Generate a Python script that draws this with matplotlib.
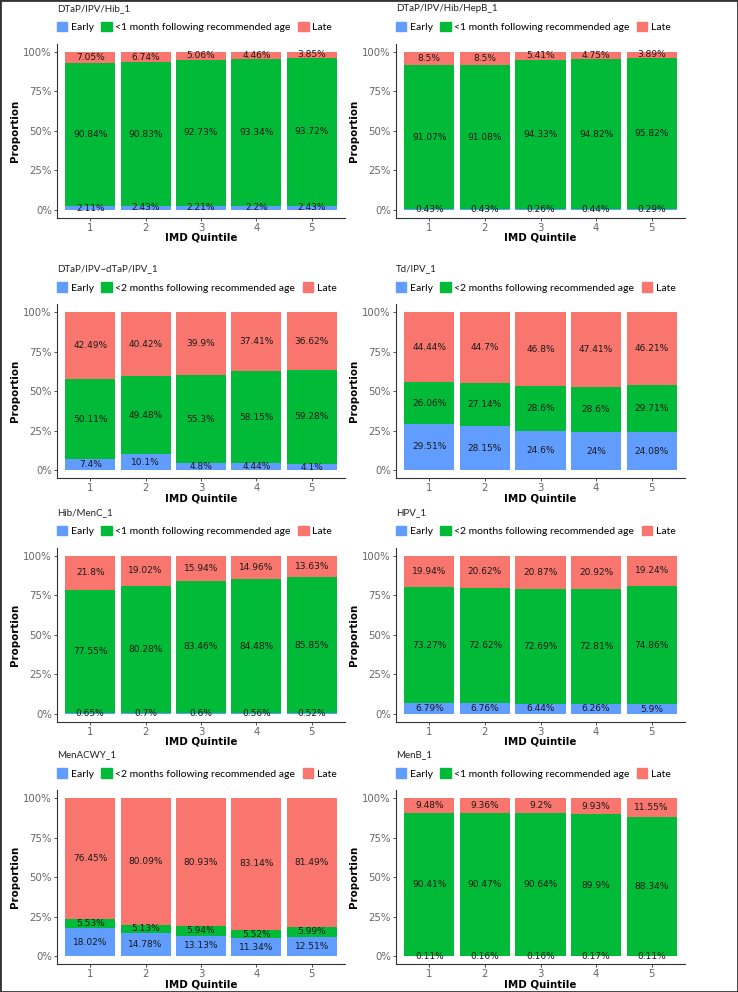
import matplotlib
matplotlib.use("Agg")
import matplotlib.pyplot as plt
from matplotlib.patches import Patch, Rectangle
import numpy as np

quintiles = [1, 2, 3, 4, 5]

titles = ["DTaP/IPV/Hib_1", "DTaP/IPV/Hib/HepB_1", "DTaP/IPV~dTaP/IPV_1", "Td/IPV_1",
          "Hib/MenC_1", "HPV_1", "MenACWY_1", "MenB_1"]
green_labels = ["<1 month following recommended age", "<1 month following recommended age",
                "<2 months following recommended age", "<2 months following recommended age",
                "<1 month following recommended age", "<2 months following recommended age",
                "<2 months following recommended age", "<1 month following recommended age"]

early = [
    [2.11, 2.43, 2.21, 2.2, 2.43],
    [0.43, 0.43, 0.26, 0.44, 0.29],
    [7.4, 10.1, 4.8, 4.44, 4.1],
    [29.51, 28.15, 24.6, 24, 24.08],
    [0.65, 0.7, 0.6, 0.56, 0.52],
    [6.79, 6.76, 6.44, 6.26, 5.9],
    [18.02, 14.78, 13.13, 11.34, 12.51],
    [0.11, 0.16, 0.16, 0.17, 0.11],
]
ontime = [
    [90.84, 90.83, 92.73, 93.34, 93.72],
    [91.07, 91.08, 94.33, 94.82, 95.82],
    [50.11, 49.48, 55.3, 58.15, 59.28],
    [26.06, 27.14, 28.6, 28.6, 29.71],
    [77.55, 80.28, 83.46, 84.48, 85.85],
    [73.27, 72.62, 72.69, 72.81, 74.86],
    [5.53, 5.13, 5.94, 5.52, 5.99],
    [90.41, 90.47, 90.64, 89.9, 88.34],
]
late = [
    [7.05, 6.74, 5.06, 4.46, 3.85],
    [8.5, 8.5, 5.41, 4.75, 3.89],
    [42.49, 40.42, 39.9, 37.41, 36.62],
    [44.44, 44.7, 46.8, 47.41, 46.21],
    [21.8, 19.02, 15.94, 14.96, 13.63],
    [19.94, 20.62, 20.87, 20.92, 19.24],
    [76.45, 80.09, 80.93, 83.14, 81.49],
    [9.48, 9.36, 9.2, 9.93, 11.55],
]

C_EARLY = "#619CFF"
C_ON = "#00BA38"
C_LATE = "#F8766D"

W, H = 738, 992
fig = plt.figure(figsize=(W / 100, H / 100), dpi=100)

col_x = [(57, 345), (396, 685)]
row_top = [43.8, 304.4, 547.8, 790.4]
ax_h = 173.8

def fmt(v):
    s = ("%.2f" % v).rstrip("0").rstrip(".")
    return s + "%"

for i in range(8):
    r, c = divmod(i, 2)
    x0, x1 = col_x[c]
    top = row_top[r]
    ax = fig.add_axes([x0 / W, 1 - (top + ax_h) / H, (x1 - x0) / W, ax_h / H])
    e = np.array(early[i]) / 100
    g = np.array(ontime[i]) / 100
    l = np.array(late[i]) / 100
    x = np.array(quintiles)
    ax.bar(x, e, width=0.9, color=C_EARLY, label="Early")
    ax.bar(x, g, width=0.9, bottom=e, color=C_ON, label=green_labels[i])
    ax.bar(x, l, width=0.9, bottom=e + g, color=C_LATE, label="Late")
    for xi, ev, gv, lv in zip(x, early[i], ontime[i], late[i]):
        ax.text(xi, ev / 200, fmt(ev), ha="center", va="center", fontsize=6.5, color="#1a1a1a")
        ax.text(xi, ev / 100 + gv / 200, fmt(gv), ha="center", va="center", fontsize=6.5, color="#1a1a1a")
        ax.text(xi, (ev + gv) / 100 + lv / 200, fmt(lv), ha="center", va="center", fontsize=6.5, color="#1a1a1a")
    ax.set_xlim(0.4, 5.6)
    ax.set_ylim(-0.05, 1.05)
    ax.set_xticks(quintiles)
    ax.set_xticklabels([str(q) for q in quintiles])
    ax.set_yticks([0, 0.25, 0.5, 0.75, 1.0])
    ax.set_yticklabels(["0%", "25%", "50%", "75%", "100%"])
    for s in ["top", "right"]:
        ax.spines[s].set_visible(False)
    for s in ["left", "bottom"]:
        ax.spines[s].set_color("#333333")
        ax.spines[s].set_linewidth(0.8)
    ax.tick_params(axis="both", labelsize=7.3, labelcolor="#666666", color="#333333",
                   length=2.5, width=0.6, pad=1.2)
    ax.set_xlabel("IMD Quintile", fontsize=7.4, fontweight="bold", labelpad=0)
    ax.set_ylabel("Proportion", fontsize=7.4, fontweight="bold", labelpad=2)
    ax.text(0.0, 1 + 35.5 / ax_h, titles[i], transform=ax.transAxes, ha="left", va="center",
            fontsize=7, family="Lato", color="#222222")
    handles = [Patch(color=C_EARLY), Patch(color=C_ON), Patch(color=C_LATE)]
    ax.legend(handles, ["Early", green_labels[i], "Late"], loc="center left",
              bbox_to_anchor=(0.0, 1 + 17 / ax_h), ncol=3, frameon=False,
              prop={"family": "Lato", "size": 7.5}, handlelength=1.0, handleheight=1.0,
              handletextpad=0.35, columnspacing=0.7, borderpad=0, borderaxespad=0)

fig.patches.append(Rectangle((0, 0), 1, 1, transform=fig.transFigure, fill=False,
                             edgecolor="#333333", linewidth=2))

fig.savefig("out.png", dpi=100, facecolor="white")
